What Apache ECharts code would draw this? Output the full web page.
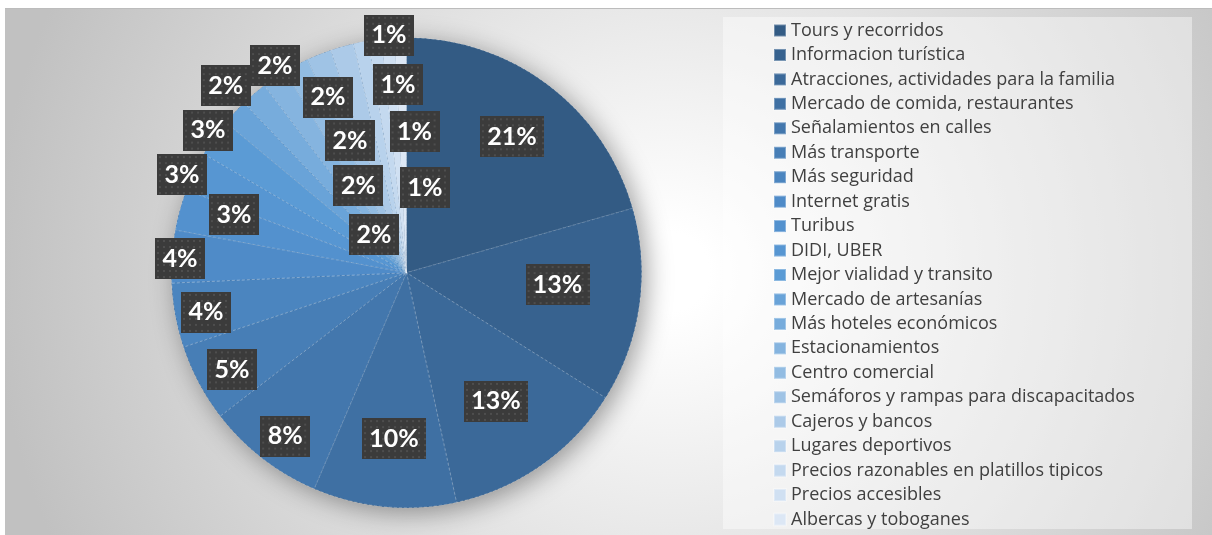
<!DOCTYPE html>
<html>
<head>
<meta charset="utf-8">
<script src="https://cdn.jsdelivr.net/npm/echarts@6/dist/echarts.min.js"></script>
<style>
  html, body { margin: 0; padding: 0; background: #ffffff; }
  #frame {
    position: absolute; left: 5px; top: 8px; width: 1207px; height: 527px;
    box-sizing: border-box; border-top: 1px solid #bcbcbc;
    background: radial-gradient(ellipse 56% 125% at 55% 50%, #ffffff 6%, #c1c1c1 100%);
  }
  #chart { position: absolute; left: 0; top: 0; width: 1212px; height: 535px; }
</style>
</head>
<body>
<div id="frame"></div>
<div id="chart"></div>
<script>
// Mejoras sugeridas por los visitantes (porcentaje de menciones)
const categories = [
  'Tours y recorridos',
  'Informacion turística',
  'Atracciones, actividades para la familia',
  'Mercado de comida, restaurantes',
  'Señalamientos en calles',
  'Más transporte',
  'Más seguridad',
  'Internet gratis',
  'Turibus',
  'DIDI, UBER',
  'Mejor vialidad y transito',
  'Mercado de artesanías',
  'Más hoteles económicos',
  'Estacionamientos',
  'Centro comercial',
  'Semáforos y rampas para discapacitados',
  'Cajeros y bancos',
  'Lugares deportivos',
  'Precios razonables en platillos tipicos',
  'Precios accesibles',
  'Albercas y toboganes'
];

const values = [
  20.5, 13.3, 12.6, 9.8, 8.1, 5.3, 4.4, 3.6, 2.8, 2.7, 2.6,
  1.8, 1.8, 1.7, 1.7, 1.7, 1.6, 1.0, 0.9, 0.9, 0.8
];

// Monochromatic blue palette, dark shade -> light tint
const palette = [
  '#335b84', '#37628f', '#3b6999', '#3f70a3', '#4377ad', '#477eb6',
  '#4b85bf', '#4f8bc8', '#5391ce', '#5796d2', '#5b9bd5', '#69a3d8',
  '#77acdc', '#85b4df', '#92bce2', '#9fc3e5', '#accae8', '#b8d2ec',
  '#c4d9ef', '#d0e0f2', '#dce7f5'
];

// Label placement around the pie: [angle in degrees clockwise from 12 o'clock, fraction of radius]
const labelSpots = [
  [37.8, 0.732], [94.5, 0.645], [145.2, 0.667], [184.3, 0.708], [216.6, 0.866],
  [240.9, 0.850], [258.8, 0.870], [273.6, 0.966], [288.6, 0.775], [293.6, 1.043],
  [305.7, 1.040], [316.0, 1.107], [327.6, 1.044], [335.9, 0.819], [336.8, 0.610],
  [331.0, 0.422], [319.2, 0.212], [355.8, 1.013], [357.4, 0.800], [3.3, 0.600],
  [12.3, 0.369]
];

const PIE_CENTER = [406.5, 272.7];
const PIE_RADIUS = 235;

const total = values.reduce((s, v) => s + v, 0);

// Dark dotted tile used behind each data label
function dottedTile(w, h) {
  const c = document.createElement('canvas');
  c.width = w; c.height = h;
  const ctx = c.getContext('2d');
  ctx.fillStyle = '#3b3b3b';
  ctx.fillRect(0, 0, w, h);
  ctx.fillStyle = '#4e4e4e';
  for (let y = 2; y < h; y += 6) {
    for (let x = 2; x < w; x += 6) {
      ctx.fillRect(x, y, 2, 2);
    }
  }
  return c;
}

const labelBox = (w) => ({
  width: w,
  height: 41,
  lineHeight: 41,
  align: 'center',
  verticalAlign: 'middle',
  color: '#ffffff',
  fontFamily: 'Lato',
  fontWeight: 'bold',
  fontSize: 25,
  backgroundColor: { image: dottedTile(w, 41) },
  shadowBlur: 7,
  shadowColor: 'rgba(0,0,0,0.55)',
  shadowOffsetX: 3,
  shadowOffsetY: 3
});

const chart = echarts.init(document.getElementById('chart'), null, { renderer: 'canvas' });

chart.setOption({
  backgroundColor: 'transparent',
  animation: false,
  graphic: [{
    type: 'rect',
    z: 0,
    silent: true,
    shape: { x: 723, y: 17, width: 469, height: 512 },
    style: { fill: 'rgba(255,255,255,0.42)' }
  }],
  legend: {
    orient: 'vertical',
    left: 773,
    top: 20.5,
    padding: 0,
    itemWidth: 12,
    itemHeight: 12,
    itemGap: 4.45,
    icon: 'rect',
    selectedMode: false,
    data: categories,
    textStyle: {
      fontFamily: 'Open Sans',
      fontSize: 18,
      lineHeight: 20,
      color: '#404040'
    }
  },
  series: [
    {
      // soft drop shadow beneath the whole pie
      type: 'pie',
      silent: true,
      z: 1,
      center: PIE_CENTER,
      radius: PIE_RADIUS,
      startAngle: 90,
      label: { show: false },
      labelLine: { show: false },
      data: [{
        name: 'total',
        value: total,
        itemStyle: {
          color: palette[0],
          shadowBlur: 26,
          shadowColor: 'rgba(0,0,0,0.38)',
          shadowOffsetX: 5,
          shadowOffsetY: 5
        }
      }]
    },
    {
      type: 'pie',
      z: 2,
      center: PIE_CENTER,
      radius: PIE_RADIUS,
      startAngle: 90,
      clockwise: true,
      avoidLabelOverlap: false,
      itemStyle: {
        borderColor: 'rgba(255,255,255,0.3)',
        borderWidth: 0.8,
        borderType: [3, 2]
      },
      emphasis: { disabled: true },
      labelLine: { show: false },
      label: {
        show: true,
        position: 'inside',
        formatter: (p) => {
          const pct = Math.round(p.value / total * 100);
          return pct >= 10 ? '{w|' + pct + '%}' : '{s|' + pct + '%}';
        },
        rich: {
          w: labelBox(64),
          s: labelBox(50)
        }
      },
      labelLayout: (params) => {
        const spot = labelSpots[params.dataIndex];
        const a = spot[0] * Math.PI / 180;
        return {
          x: PIE_CENTER[0] + spot[1] * PIE_RADIUS * Math.sin(a),
          y: PIE_CENTER[1] - spot[1] * PIE_RADIUS * Math.cos(a),
          align: 'center',
          verticalAlign: 'middle'
        };
      },
      data: categories.map((name, i) => ({
        name: name,
        value: values[i],
        itemStyle: { color: palette[i] }
      }))
    }
  ]
});
</script>
</body>
</html>
